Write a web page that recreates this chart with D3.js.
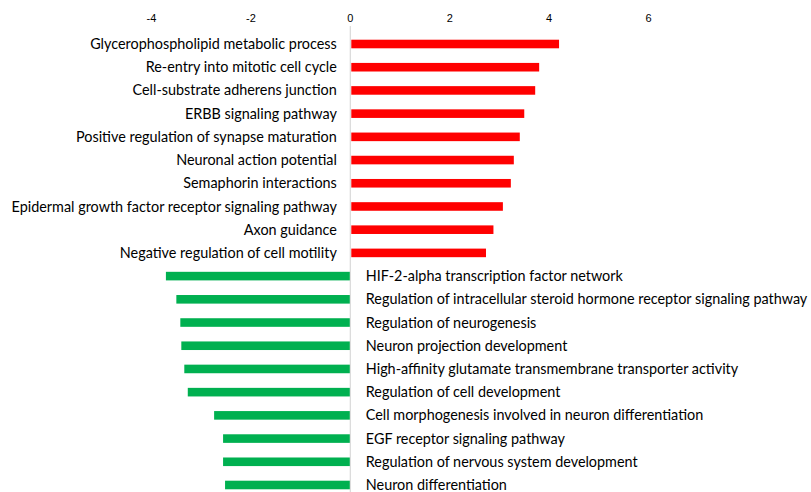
<!DOCTYPE html>
<html><head><meta charset="utf-8">
<script src="https://cdn.jsdelivr.net/npm/d3@7"></script>
<style>body{margin:0;background:#fff}svg{display:block}</style>
</head><body>
<svg id="c" width="811" height="492"></svg>
<script>
const upCategories = ["Glycerophospholipid metabolic process","Re-entry into mitotic cell cycle","Cell-substrate adherens junction","ERBB signaling pathway","Positive regulation of synapse maturation","Neuronal action potential","Semaphorin interactions","Epidermal growth factor receptor signaling pathway","Axon guidance","Negative regulation of cell motility"];
const upValues = [4.18, 3.78, 3.70, 3.48, 3.39, 3.27, 3.21, 3.05, 2.86, 2.71];
const downCategories = ["HIF-2-alpha transcription factor network","Regulation of intracellular steroid hormone receptor signaling pathway","Regulation of neurogenesis","Neuron projection development","High-affinity glutamate transmembrane transporter activity","Regulation of cell development","Cell morphogenesis involved in neuron differentiation","EGF receptor signaling pathway","Regulation of nervous system development","Neuron differentiation"];
const downValues = [-3.70, -3.49, -3.41, -3.39, -3.33, -3.26, -2.73, -2.55, -2.55, -2.51];
const tickValues = [-4, -2, 0, 2, 4, 6];

const data = upCategories.map((c,i)=>({name:c,value:upValues[i],up:true}))
  .concat(downCategories.map((c,i)=>({name:c,value:downValues[i],up:false})));

const svg = d3.select("#c");
const x = d3.scaleLinear().domain([-4,6]).range([151,648]);
const y = d3.scaleBand().domain(data.map(d=>d.name)).range([32.4,496.6]).paddingInner(0.63).paddingOuter(0.315);

svg.append("line").attr("x1",x(0)+0.5).attr("x2",x(0)+0.5).attr("y1",26).attr("y2",492)
  .attr("stroke","#d9d9d9").attr("stroke-width",1.2);

const axis = d3.axisTop(x).tickValues(tickValues).tickSize(0).tickPadding(0).tickFormat(d=>String(d));
const ag = svg.append("g").attr("transform","translate(0,22)").call(axis);
ag.select(".domain").remove();
ag.selectAll("text").attr("font-family","'Liberation Sans', Arial, sans-serif").attr("font-size",11).attr("fill","#000");

svg.append("g").selectAll("rect").data(data).join("rect")
  .attr("x",d=>x(Math.min(0,d.value))+(d.value>0?1.5:0))
  .attr("width",d=>Math.abs(x(d.value)-x(0)))
  .attr("y",d=>y(d.name))
  .attr("height",y.bandwidth())
  .attr("fill",d=>d.up?"#ff0000":"#00b050");

svg.append("g").selectAll("text").data(data).join("text")
  .attr("x",d=>d.up? x(0)-13 : x(0)+16)
  .attr("y",d=>y(d.name)+y.bandwidth()/2)
  .attr("dy","0.35em")
  .attr("text-anchor",d=>d.up?"end":"start")
  .attr("font-family","Lato, 'Open Sans', sans-serif")
  .attr("font-size",14.4)
  .attr("fill","#000")
  .text(d=>d.name);
</script>
</body></html>
